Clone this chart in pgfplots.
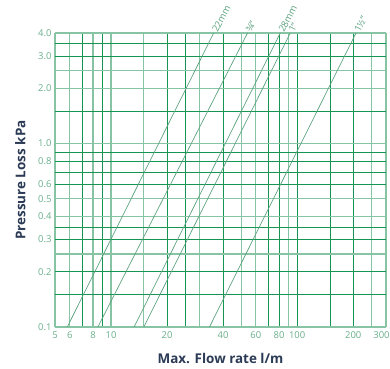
\documentclass[border=0pt]{standalone}
\usepackage{pgfplots}
\pgfplotsset{compat=1.18}
\usepackage{fontspec}
\setmainfont{Open Sans}
\definecolor{gridlight}{HTML}{86C4A4}
\definecolor{griddark}{HTML}{169452}
\definecolor{curve}{HTML}{5EA37F}
\definecolor{ticklab}{HTML}{6AAF8A}
\definecolor{navy}{HTML}{2B3A55}
\begin{document}
\begin{tikzpicture}
\begin{axis}[
  scale only axis,
  width=331bp, height=294bp,
  xmode=log, ymode=log,
  xmin=5, xmax=300, ymin=0.1, ymax=4,
  axis line style={draw=none},
  major tick length=0pt, minor tick length=0pt,
  xtick={5,6,8,10,15,30,50,60,90,250,300},
  minor xtick={7,9,20,25,40,70,80,100,150,200},
  ytick={0.1,0.25,0.4,0.5,1,2,2.5,4},
  minor ytick={0.15,0.2,0.3,0.35,0.6,0.7,0.8,0.9,1.5,3,3.5},
  xticklabels={}, yticklabels={},
  grid=both,
  major grid style={gridlight, line width=1.2pt},
  minor grid style={griddark, line width=0.75pt},
  extra x ticks={5,6,8,10,20,40,60,80,100,200,300},
  extra x tick labels={5,6,8,10,20,40,60,80,100,200,{\hspace*{-9bp}300}},
  extra y ticks={0.1,0.2,0.3,0.4,0.5,0.6,0.8,1,2,3,4},
  extra y tick labels={0.1,0.2,0.3,0.4,0.5,0.6,0.8,1.0,2.0,3.0,4.0},
  extra tick style={grid=none, major tick length=0pt},
  tick label style={font=\fontsize{9.5}{11}\selectfont, text=ticklab},
  xticklabel style={yshift=-1bp},
  xlabel={\textbf{Max. Flow rate l/m}},
  ylabel={\textbf{Pressure Loss kPa}},
  label style={font=\fontsize{13.5}{15}\selectfont, text=navy},
  xlabel style={at={(rel axis cs:0.5,0)}, anchor=north, yshift=-23bp},
  ylabel style={at={(rel axis cs:0,0.5)}, anchor=south, yshift=26bp},
  clip=false,
]
\addplot[curve, line width=0.7pt] coordinates {(5.82,0.1) (35.6,4)}
  node[pos=1, anchor=west, rotate=62, font=\fontsize{9.5}{10}\selectfont, text=curve, inner sep=1bp, xshift=0.5bp] {22mm};
\addplot[curve, line width=0.7pt] coordinates {(8.5,0.1) (54.1,4)}
  node[pos=1, anchor=west, rotate=62, font=\fontsize{9.5}{10}\selectfont, text=curve, inner sep=1bp, xshift=0.5bp] {¾"};
\addplot[curve, line width=0.7pt] coordinates {(13.3,0.1) (81.1,4)}
  node[pos=1, anchor=west, rotate=62, font=\fontsize{9.5}{10}\selectfont, text=curve, inner sep=1bp, xshift=0.5bp] {28mm};
\addplot[curve, line width=0.7pt] coordinates {(15.0,0.1) (91.8,4)}
  node[pos=1, anchor=west, rotate=62, font=\fontsize{9.5}{10}\selectfont, text=curve, inner sep=1bp, xshift=0.5bp] {1"};
\addplot[curve, line width=0.7pt] coordinates {(33.8,0.1) (207,4)}
  node[pos=1, anchor=west, rotate=62, font=\fontsize{9.5}{10}\selectfont, text=curve, inner sep=1bp, xshift=0.5bp] {1½"};
\end{axis}
\pgfresetboundingbox
\path (-55bp,-42bp) rectangle (335bp,327bp);
\end{tikzpicture}
\end{document}
